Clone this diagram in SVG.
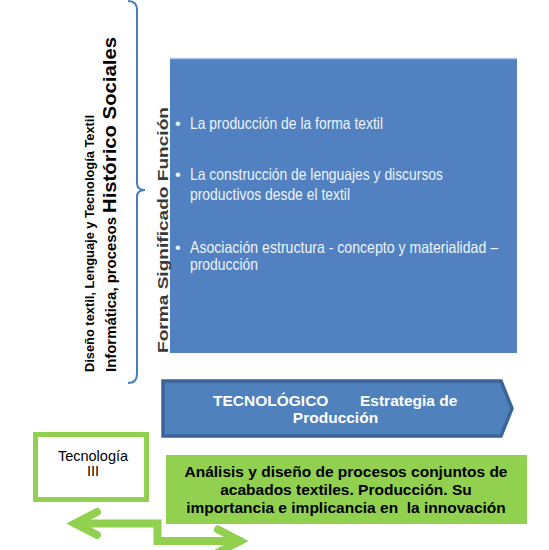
<svg xmlns="http://www.w3.org/2000/svg" width="549" height="550" viewBox="0 0 549 550">
  <style>
    .bold { font-family: "Liberation Sans", Arial, sans-serif; font-weight: bold; }
    .reg { font-family: "Liberation Sans", Arial, sans-serif; }
    .bul { font-family: "Liberation Sans", Arial, sans-serif; font-size: 16.5px; fill: #eef3fa; }
    .green { stroke: #92d050; fill: none; stroke-width: 8; stroke-linecap: round; stroke-linejoin: miter; }
  </style>
  <rect width="549" height="550" fill="#ffffff"/>

  <g id="left-labels">
    <text class="bold" font-size="13.5" fill="#000" transform="translate(94,372) rotate(-90)" textLength="257" lengthAdjust="spacingAndGlyphs">Diseño textil, Lenguaje y Tecnología Textil</text>
    <text class="bold" fill="#000" transform="translate(116,372) rotate(-90)"><tspan font-size="14" textLength="155" lengthAdjust="spacingAndGlyphs">Informática, procesos</tspan><tspan font-size="19" dx="4" textLength="176" lengthAdjust="spacingAndGlyphs">Histórico Sociales</tspan></text>
  </g>

  <g id="connectors">
    <path d="M128,1 Q137,1 137,10 L137,183 Q137,190 145,190 Q137,190 137,197 L137,374 Q137,383 128,383" fill="none" stroke="#4a7ebb" stroke-width="2"/>
    <path class="green" d="M75,523.5 L157.5,523.5 L157.5,541 L240,541"/>
    <path class="green" d="M97,512 L75,523.5 L97,535"/>
    <path class="green" d="M218,529.5 L240,541 L218,552.5"/>
  </g>

  <g id="forma-box">
    <rect x="170" y="58" width="347" height="295" fill="#5181c0"/>
    <line x1="170" y1="58.5" x2="517" y2="58.5" stroke="#a9c6e6" stroke-width="1.5"/>
    <text class="bold" font-size="15.5" fill="#3a3a3a" transform="translate(168,353) rotate(-90)" textLength="246" lengthAdjust="spacingAndGlyphs">Forma Significado Función</text>
    <text class="bul" x="175" y="129">•</text>
    <text class="bul" x="190" y="129" textLength="193" lengthAdjust="spacingAndGlyphs">La producción de la forma textil</text>
    <text class="bul" x="175" y="180">•</text>
    <text class="bul" x="190" y="180" textLength="253" lengthAdjust="spacingAndGlyphs">La construcción de lenguajes y discursos</text>
    <text class="bul" x="190" y="200" textLength="160" lengthAdjust="spacingAndGlyphs">productivos desde el textil</text>
    <text class="bul" x="175" y="253">•</text>
    <text class="bul" x="190" y="253" textLength="308" lengthAdjust="spacingAndGlyphs">Asociación estructura - concepto y materialidad –</text>
    <text class="bul" x="190" y="270" textLength="68" lengthAdjust="spacingAndGlyphs">producción</text>
  </g>

  <g id="tecnologico">
    <path d="M163,381 L501,381 L512,408.5 L501,436 L163,436 Z" fill="#4f81bd" stroke="#3b6497" stroke-width="3.5" stroke-linejoin="miter"/>
    <text class="bold" font-size="15.5" fill="#ffffff" x="213" y="406">TECNOLÓGICO</text>
    <text class="bold" font-size="15.5" fill="#ffffff" x="360" y="406">Estrategia de</text>
    <text class="bold" font-size="15.5" fill="#ffffff" text-anchor="middle" x="335.5" y="423">Producción</text>
  </g>

  <g id="tecnologia-iii">
    <rect x="35.5" y="434.5" width="111" height="65" fill="#ffffff" stroke="#92d050" stroke-width="5"/>
    <text class="reg" font-size="14.5" fill="#000" text-anchor="middle" x="93" y="461">Tecnología</text>
    <text class="reg" font-size="14.5" fill="#000" text-anchor="middle" x="93" y="476">III</text>
  </g>

  <g id="analisis">
    <rect x="166" y="455" width="361" height="69" fill="#92d050"/>
    <text class="bold" font-size="15.5" fill="#000" text-anchor="middle" x="346" y="477">Análisis y diseño de procesos conjuntos de</text>
    <text class="bold" font-size="15.5" fill="#000" text-anchor="middle" x="346" y="495">acabados textiles. Producción. Su</text>
    <text class="bold" font-size="15.5" fill="#000" text-anchor="middle" x="346" y="513" xml:space="preserve">importancia e implicancia en  la innovación</text>
  </g>
</svg>
